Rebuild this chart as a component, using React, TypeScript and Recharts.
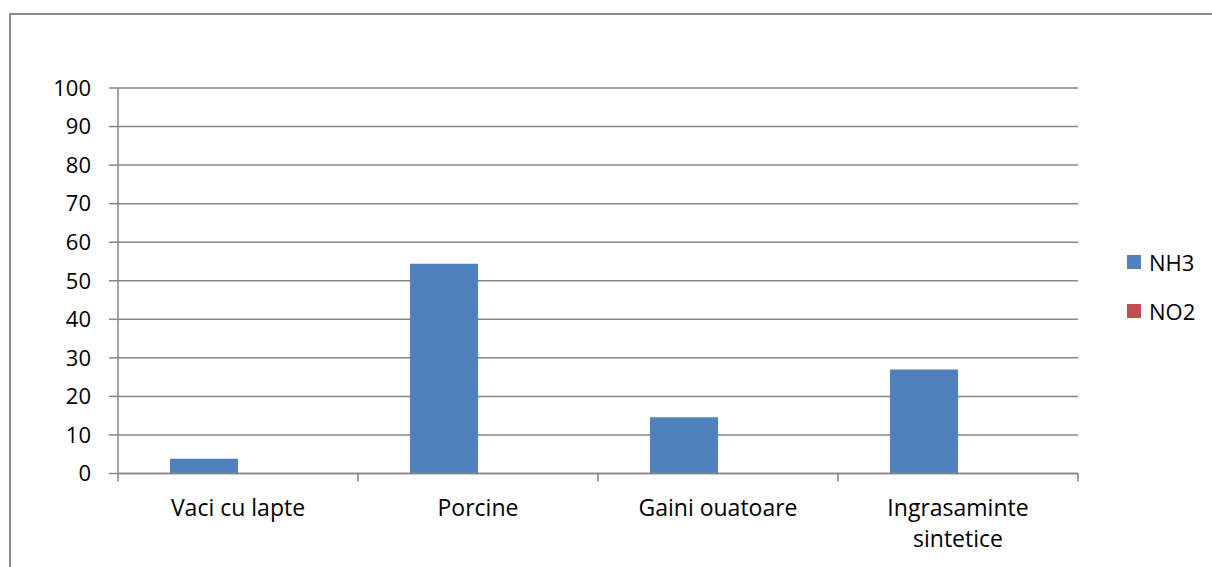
import React from 'react';
import { BarChart, Bar, XAxis, YAxis, CartesianGrid, Legend } from 'recharts';

const categories = ['Vaci cu lapte', 'Porcine', 'Gaini ouatoare', 'Ingrasaminte sintetice'];
const nh3Values = [3.8, 54.4, 14.6, 27.0];
const no2Values = [0, 0, 0, 0];
const yTicks = [0, 10, 20, 30, 40, 50, 60, 70, 80, 90, 100];
const seriesNames = ['NH3', 'NO2'];
const seriesColors = ['#4F81BD', '#C0504D'];

const data = categories.map((c, i) => ({ name: c, NH3: nh3Values[i], NO2: no2Values[i] }));

const FONT = '"Open Sans", sans-serif';
const FS = 22;
const XFS = 23;
const GRID = '#868686';

const wrapLabel = (s: string): string[] => {
  if (s.length <= 16) return [s];
  const words = s.split(' ');
  const lines: string[] = [];
  let cur = '';
  words.forEach((w) => {
    const t = cur ? cur + ' ' + w : w;
    if (t.length > 14 && cur) {
      lines.push(cur);
      cur = w;
    } else cur = t;
  });
  if (cur) lines.push(cur);
  return lines;
};

const XTick = (props: any) => {
  const { x, y, payload, index, visibleTicksCount, width } = props;
  const half = payload && payload.offset ? payload.offset : width / visibleTicksCount / 2;
  const lines = wrapLabel(String(payload.value));
  return (
    <g>
      <line x1={x - half} x2={x - half} y1={y} y2={y + 8} stroke={GRID} strokeWidth={1.5} />
      {index === visibleTicksCount - 1 && (
        <line x1={x + half} x2={x + half} y1={y} y2={y + 8} stroke={GRID} strokeWidth={1.5} />
      )}
      <text x={x} y={y + 42} textAnchor="middle" fill="#000" fontFamily={FONT} fontSize={XFS}>
        {lines.map((l, i) => (
          <tspan key={i} x={x} dy={i === 0 ? 0 : 31}>
            {l}
          </tspan>
        ))}
      </text>
    </g>
  );
};

const LegendContent = (props: any) => {
  const { payload } = props;
  return (
    <div style={{ fontFamily: FONT, fontSize: FS, color: '#000', lineHeight: '24px' }}>
      {(payload || []).map((p: any, i: number) => (
        <div
          key={i}
          style={{ display: 'flex', alignItems: 'center', height: 24, marginBottom: 24.6 }}
        >
          <div style={{ width: 14, height: 14, background: p.color, marginRight: 8 }} />
          <span>{p.value}</span>
        </div>
      ))}
    </div>
  );
};

export default function App() {
  return (
    <div style={{ position: 'absolute', left: 0, top: 0, width: 1212, height: 567, background: '#fff', overflow: 'hidden' }}>
      <div
        style={{
          position: 'absolute',
          left: 9,
          top: 13,
          width: 1400,
          height: 800,
          borderLeft: '2px solid #8c8c8c',
          borderTop: '2px solid #8c8c8c',
        }}
      />
      <div style={{ position: 'absolute', left: 0, top: 0 }}>
        <BarChart
          width={1212}
          height={567}
          data={data}
          margin={{ top: 88, right: 134, bottom: 13.5, left: 18 }}
          barCategoryGap={52}
          barGap={0}
        >
          <CartesianGrid vertical={false} stroke={GRID} strokeWidth={1.5} />
          <XAxis
            dataKey="name"
            height={80}
            axisLine={{ stroke: GRID, strokeWidth: 1.5 }}
            tickLine={false}
            tickSize={0}
            tickMargin={0}
            interval={0}
            tick={<XTick />}
          />
          <YAxis
            width={100}
            domain={[0, 100]}
            ticks={yTicks}
            interval={0}
            axisLine={{ stroke: GRID, strokeWidth: 1.5 }}
            tickLine={{ stroke: GRID, strokeWidth: 1.5 }}
            tickSize={9}
            tickMargin={18}
            tick={{ fill: '#000', fontFamily: FONT, fontSize: FS }}
          />
          <Legend
            layout="horizontal"
            align="center"
            verticalAlign="middle"
            wrapperStyle={{ left: 1127, top: 250, width: 'auto', height: 'auto' }}
            content={<LegendContent />}
          />
          {seriesNames.map((s, i) => (
            <Bar key={s} dataKey={s} name={s} fill={seriesColors[i]} isAnimationActive={false} />
          ))}
        </BarChart>
      </div>
    </div>
  );
}
